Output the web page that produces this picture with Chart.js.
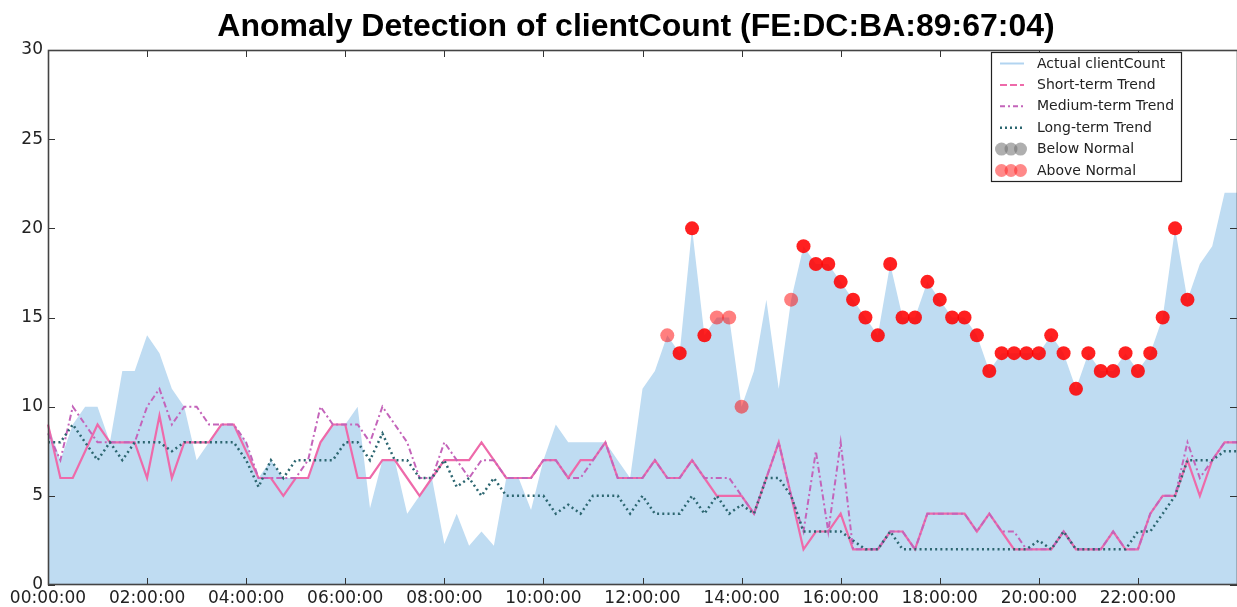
<!DOCTYPE html>
<html>
<head>
<meta charset="utf-8">
<script src="https://cdn.jsdelivr.net/npm/chart.js@4.4.0/dist/chart.umd.min.js"></script>
<style>
html,body{margin:0;padding:0;background:#fff;overflow:hidden}
canvas{display:block}
</style>
</head>
<body>
<canvas id="c" width="1237" height="607"></canvas>
<script>
const chartTitle = "Anomaly Detection of clientCount (FE:DC:BA:89:67:04)";

// 15-minute time slots (categories)
const timeSlots = [
"00:00:00","00:15:00","00:30:00","00:45:00","01:00:00","01:15:00","01:30:00","01:45:00",
"02:00:00","02:15:00","02:30:00","02:45:00","03:00:00","03:15:00","03:30:00","03:45:00",
"04:00:00","04:15:00","04:30:00","04:45:00","05:00:00","05:15:00","05:30:00","05:45:00",
"06:00:00","06:15:00","06:30:00","06:45:00","07:00:00","07:15:00","07:30:00","07:45:00",
"08:00:00","08:15:00","08:30:00","08:45:00","09:00:00","09:15:00","09:30:00","09:45:00",
"10:00:00","10:15:00","10:30:00","10:45:00","11:00:00","11:15:00","11:30:00","11:45:00",
"12:00:00","12:15:00","12:30:00","12:45:00","13:00:00","13:15:00","13:30:00","13:45:00",
"14:00:00","14:15:00","14:30:00","14:45:00","15:00:00","15:15:00","15:30:00","15:45:00",
"16:00:00","16:15:00","16:30:00","16:45:00","17:00:00","17:15:00","17:30:00","17:45:00",
"18:00:00","18:15:00","18:30:00","18:45:00","19:00:00","19:15:00","19:30:00","19:45:00",
"20:00:00","20:15:00","20:30:00","20:45:00","21:00:00","21:15:00","21:30:00","21:45:00",
"22:00:00","22:15:00","22:30:00","22:45:00","23:00:00","23:15:00","23:30:00","23:45:00",
"24:00:00"
];

const xTickLabels = ["00:00:00","02:00:00","04:00:00","06:00:00","08:00:00","10:00:00",
                     "12:00:00","14:00:00","16:00:00","18:00:00","20:00:00","22:00:00"];
const yTickValues = [0,5,10,15,20,25,30];

const actualCount = [
 9,7,9,10,10,8,12,12,
 14,13,11,10,7,8,9,9,
 8,6,7,6,6,6,8,9,
 9,10,4.3,7,7,4,5,6,
 2.3,4,2.2,3,2.2,6,6,4.2,
 7,9,8,8,8,8,7,6,
 11,12,14,13,20,14,15,15,
 10,12,16,11,16,19,18,18,
 17,16,15,14,18,15,15,17,
 16,15,15,14,12,13,13,13,
 13,14,13,11,13,12,12,13,
 12,13,15,20,16,18,19,22,
 22
];

const shortTrend = [
 9,6,6,7.5,9,8,8,8,
 6,9.5,6,8,8,8,9,9,
 7.5,6,6,5,6,6,8,9,
 9,6,6,7,7,6,5,6,
 7,7,7,8,7,6,6,6,
 7,7,6,7,7,8,6,6,
 6,7,6,6,7,6,5,5,
 5,4,6,8,5,2,3,3,
 4,2,2,2,3,3,2,4,
 4,4,4,3,4,3,2,2,
 2,2,3,2,2,2,3,2,
 2,4,5,5,7,5,7,8,
 8
];

const mediumTrend = [
 8.5,7,10,9,8,8,8,8,
 10,11,9,10,10,9,9,9,
 8,6,6,6,6,7,10,9,
 9,9,8,10,9,8,6,6,
 8,7,6,7,7,6,6,6,
 7,7,6,6,7,8,6,6,
 6,7,6,6,7,6,6,6,
 5,4,6,8,5,3,7.5,3,
 8,2,2,2,3,3,2,4,
 4,4,4,3,4,3,3,2,
 2,2,3,2,2,2,3,2,
 2,4,5,5,8,6,7,8,
 8
];

const longTrend = [
 8,8,9,8,7,8,7,8,
 8,8,7.5,8,8,8,8,8,
 7,5.5,7,6,7,7,7,7,
 8,8,7,8.5,7,7,6,6,
 7,5.5,6,5,6,5,5,5,
 5,4,4.5,4,5,5,5,4,
 5,4,4,4,5,4,5,4,
 4.5,4,6,6,5,3,3,3,
 3,2.5,2,2,3,2,2,2,
 2,2,2,2,2,2,2,2,
 2.5,2,3,2,2,2,2,2,
 3,3,4,5,7,7,7,7.5,
 7.5
];

// Above-normal anomalies: time, value, number of trends that flagged it
const aboveTimes = [
 "12:30:00","12:45:00","13:00:00","13:15:00","13:30:00","13:45:00","14:00:00",
 "15:00:00","15:15:00","15:30:00","15:45:00","16:00:00","16:15:00","16:30:00","16:45:00",
 "17:00:00","17:15:00","17:30:00","17:45:00","18:00:00","18:15:00","18:30:00","18:45:00",
 "19:00:00","19:15:00","19:30:00","19:45:00","20:00:00","20:15:00","20:30:00","20:45:00",
 "21:00:00","21:15:00","21:30:00","21:45:00","22:00:00","22:15:00","22:30:00","22:45:00","23:00:00"
];
const aboveValues = [
 14,13,20,14,15,15,10,
 16,19,18,18,17,16,15,14,
 18,15,15,17,16,15,15,14,
 12,13,13,13,13,14,13,11,
 13,12,12,13,12,13,15,20,16
];
const aboveHits = [
 1,3,3,3,1,1,1,
 1,3,3,3,3,3,3,3,
 3,3,3,3,3,3,3,3,
 3,3,3,3,3,3,3,3,
 3,3,3,3,3,3,3,3,3
];
const belowTimes = [];
const belowValues = [];

const FILL = 'rgb(191,220,242)';
const SHORT = 'rgb(238,106,170)';
const MEDIUM = 'rgb(196,100,186)';
const LONG = 'rgb(44,102,112)';

const abovePoints = aboveTimes.map((t, i) => ({x: t, y: aboveValues[i]}));
const aboveColors = aboveHits.map(h => 'rgba(255,0,0,' + (1 - Math.pow(0.5, h)).toFixed(3) + ')');
const belowPoints = belowTimes.map((t, i) => ({x: t, y: belowValues[i]}));

const legendSpec = [
  {label: 'Actual clientCount', kind: 'line', color: 'rgb(178,212,240)', dash: [], width: 2},
  {label: 'Short-term Trend', kind: 'line', color: SHORT, dash: [7,3], width: 2},
  {label: 'Medium-term Trend', kind: 'line', color: MEDIUM, dash: [5,3,2,3], width: 2},
  {label: 'Long-term Trend', kind: 'line', color: LONG, dash: [2,3], width: 2.5},
  {label: 'Below Normal', kind: 'dots', color: 'rgba(110,110,110,0.55)'},
  {label: 'Above Normal', kind: 'dots', color: 'rgba(255,40,40,0.55)'}
];

const decor = {
  id: 'decor',
  beforeDraw(chart) {
    const ctx = chart.ctx;
    ctx.save();
    ctx.fillStyle = '#fff';
    ctx.fillRect(0, 0, chart.width, chart.height);
    ctx.restore();
  },
  afterDraw(chart) {
    const {ctx, chartArea: a, scales: {x, y}} = chart;
    ctx.save();
    // ticks (inward, all four sides)
    ctx.strokeStyle = '#333';
    ctx.lineWidth = 1;
    ctx.beginPath();
    x.ticks.forEach((t, i) => {
      if (t.label === null || t.label === undefined || t.label === '') return;
      const px = Math.round(x.getPixelForTick(i)) + 0.5;
      ctx.moveTo(px, a.bottom); ctx.lineTo(px, a.bottom - 7);
      ctx.moveTo(px, a.top); ctx.lineTo(px, a.top + 7);
    });
    y.ticks.forEach((t, i) => {
      const py = Math.round(y.getPixelForTick(i)) + 0.5;
      ctx.moveTo(a.left, py); ctx.lineTo(a.left + 7, py);
      ctx.moveTo(a.right, py); ctx.lineTo(a.right - 7, py);
    });
    ctx.stroke();
    // frame
    ctx.strokeStyle = '#444';
    ctx.lineWidth = 1.6;
    ctx.strokeRect(a.left + 0.5, a.top + 0.5, a.right - a.left, a.bottom - a.top - 1);

    // title
    ctx.fillStyle = '#000';
    ctx.font = 'bold 32px "Liberation Sans", Arial, sans-serif';
    ctx.textAlign = 'center';
    ctx.textBaseline = 'middle';
    ctx.fillText(chartTitle, 636, 27);

    // legend
    const lx = 991, ly = 52, lw = 190, lh = 129;
    ctx.fillStyle = '#fff';
    ctx.fillRect(lx, ly, lw, lh);
    ctx.strokeStyle = '#222';
    ctx.lineWidth = 1.2;
    ctx.strokeRect(lx + 0.5, ly + 0.5, lw, lh);
    ctx.font = '14px "DejaVu Sans", sans-serif';
    ctx.textAlign = 'left';
    ctx.textBaseline = 'middle';
    legendSpec.forEach((e, k) => {
      const cy = 63.5 + k * 21.4;
      if (e.kind === 'line') {
        ctx.strokeStyle = e.color;
        ctx.lineWidth = e.width;
        ctx.setLineDash(e.dash);
        ctx.beginPath();
        ctx.moveTo(1000, cy); ctx.lineTo(1024, cy);
        ctx.stroke();
        ctx.setLineDash([]);
      } else {
        ctx.fillStyle = e.color;
        [1001.5, 1011, 1020.5].forEach(cx => {
          ctx.beginPath();
          ctx.arc(cx, cy, 6.5, 0, Math.PI * 2);
          ctx.fill();
        });
      }
      ctx.fillStyle = '#222';
      ctx.fillText(e.label, 1037, cy + 0.5);
    });
    ctx.restore();
  }
};

new Chart(document.getElementById('c'), {
  type: 'line',
  data: {
    labels: timeSlots,
    datasets: [
      {label: 'Above Normal', data: abovePoints, showLine: false, order: 0,
       pointRadius: 7, pointHoverRadius: 7, pointBorderWidth: 0,
       pointBackgroundColor: aboveColors, backgroundColor: 'rgba(255,0,0,0.5)', borderColor: 'rgba(0,0,0,0)'},
      {label: 'Below Normal', data: belowPoints, showLine: false, order: 0,
       pointRadius: 7, pointBorderWidth: 0, pointBackgroundColor: 'rgba(110,110,110,0.5)',
       borderColor: 'rgba(0,0,0,0)'},
      {label: 'Long-term Trend', data: longTrend, order: 1, borderColor: LONG,
       borderWidth: 2.5, borderDash: [2, 3.2], pointRadius: 0, tension: 0, fill: false},
      {label: 'Medium-term Trend', data: mediumTrend, order: 2, borderColor: MEDIUM,
       borderWidth: 2, borderDash: [6, 3, 2, 3], pointRadius: 0, tension: 0, fill: false},
      {label: 'Short-term Trend', data: shortTrend, order: 3, borderColor: SHORT,
       borderWidth: 2.2, pointRadius: 0, tension: 0, fill: false},
      {label: 'Actual clientCount', data: actualCount, order: 4, borderColor: FILL,
       borderWidth: 0, backgroundColor: FILL, fill: 'origin', pointRadius: 0, tension: 0}
    ]
  },
  options: {
    responsive: false,
    animation: false,
    devicePixelRatio: 1,
    layout: {autoPadding: false, padding: {top: 50, left: 0, right: 0, bottom: 0}},
    plugins: {legend: {display: false}, title: {display: false}, tooltip: {enabled: false}},
    events: [],
    scales: {
      x: {
        type: 'category',
        offset: false,
        grid: {display: false, drawTicks: false},
        border: {display: false},
        ticks: {
          autoSkip: false, maxRotation: 0, minRotation: 0, padding: 3,
          color: '#222',
          font: {family: '"DejaVu Sans", sans-serif', size: 17},
          callback: function (v) {
            const lab = this.getLabelForValue(v);
            return xTickLabels.includes(lab) ? lab : null;
          }
        },
        afterFit(s) { s.height = 22; s.paddingLeft = 0; s.paddingRight = 0; }
      },
      y: {
        min: 0, max: 30,
        grid: {display: false, drawTicks: false},
        border: {display: false},
        afterBuildTicks(s) { s.ticks = yTickValues.map(v => ({value: v})); },
        ticks: {
          padding: 5, color: '#222',
          font: {family: '"DejaVu Sans", sans-serif', size: 17}
        },
        afterFit(s) { s.width = 48; s.paddingTop = 0; s.paddingBottom = 0; }
      }
    }
  },
  plugins: [decor]
});
</script>
</body>
</html>
